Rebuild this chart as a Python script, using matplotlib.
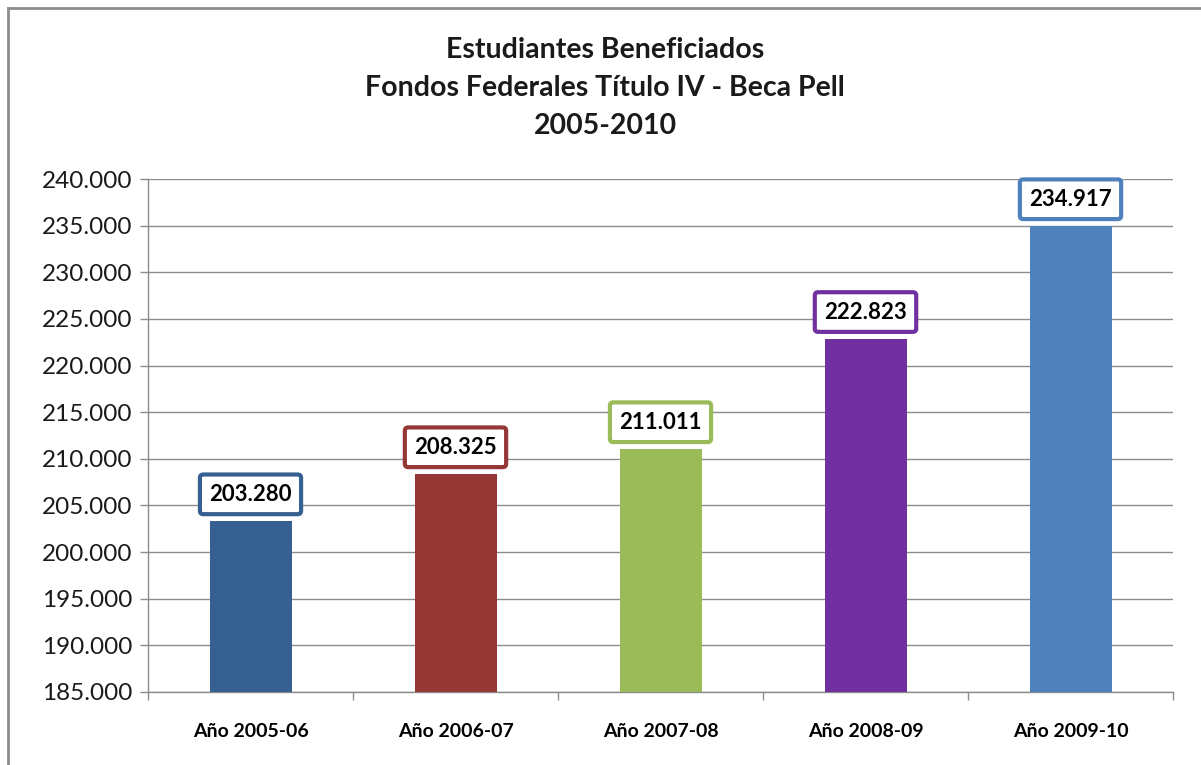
import matplotlib

matplotlib.use("Agg")
import matplotlib.pyplot as plt
from matplotlib.lines import Line2D
from matplotlib.ticker import FuncFormatter, FixedLocator

categories = ["Año 2005-06", "Año 2006-07", "Año 2007-08", "Año 2008-09", "Año 2009-10"]
values = [203280, 208325, 211011, 222823, 234917]
colors = ["#376092", "#953735", "#9BBB59", "#7030A0", "#4F81BD"]
title_lines = ["Estudiantes Beneficiados", "Fondos Federales Título IV - Beca Pell", "2005-2010"]

W, H = 1201, 765
plt.rcParams["font.family"] = ["Lato", "DejaVu Sans"]

fig = plt.figure(figsize=(W / 100, H / 100), dpi=100)
fig.patch.set_facecolor("white")

# outer chart frame (only left and top edges visible)
frame_c = "#8c8c8c"
fig.add_artist(Line2D([7.5 / W, 7.5 / W], [0, 1 - 8 / H], color=frame_c, lw=2, transform=fig.transFigure))
fig.add_artist(Line2D([7.5 / W, 1], [1 - 8 / H, 1 - 8 / H], color=frame_c, lw=2, transform=fig.transFigure))

left, right, top, bottom = 148, 1173, 179, 692
ax = fig.add_axes([left / W, 1 - bottom / H, (right - left) / W, (bottom - top) / H])

x = list(range(len(categories)))
ax.bar(x, values, width=0.4, color=colors, zorder=3)

ax.set_xlim(-0.5, len(categories) - 0.5)
ax.set_ylim(185000, 240000)
ax.set_yticks(range(185000, 240001, 5000))
ax.yaxis.set_major_formatter(FuncFormatter(lambda v, p: f"{int(v):,}".replace(",", ".")))
ax.grid(axis="y", color="#8c8c8c", lw=1, zorder=0)

ax.xaxis.set_major_locator(FixedLocator([i - 0.5 for i in range(len(categories) + 1)]))
ax.xaxis.set_major_formatter(FuncFormatter(lambda v, p: ""))
ax.xaxis.set_minor_locator(FixedLocator(x))
ax.set_xticklabels(categories, minor=True)
ax.tick_params(axis="x", which="major", length=6, color="#8c8c8c", width=1)
ax.tick_params(axis="x", which="minor", length=0, pad=22, labelsize=14)
for lbl in ax.get_xticklabels(minor=True):
    lbl.set_fontweight("bold")
ax.tick_params(axis="y", length=6, color="#8c8c8c", width=1, labelsize=17.5, pad=5, labelcolor="#1a1a1a")

for s in ["top", "right"]:
    ax.spines[s].set_visible(False)
for s in ["left", "bottom"]:
    ax.spines[s].set_color("#8c8c8c")
    ax.spines[s].set_linewidth(1)

for xi, v, c in zip(x, values, colors):
    ax.annotate(f"{v:,}".replace(",", "."), (xi, v), xytext=(0, 12), textcoords="offset points",
                ha="center", va="bottom", fontsize=16, fontweight="bold", color="black", zorder=5,
                bbox=dict(boxstyle="round,pad=0.42,rounding_size=0.15", fc="white", ec=c, lw=3))

fig.text(605 / W, 1 - 88 / H, "\n".join(title_lines), ha="center", va="center",
         fontsize=20.5, fontweight="bold", linespacing=1.55, color="#1a1a1a")

fig.savefig("out.png", dpi=100)
